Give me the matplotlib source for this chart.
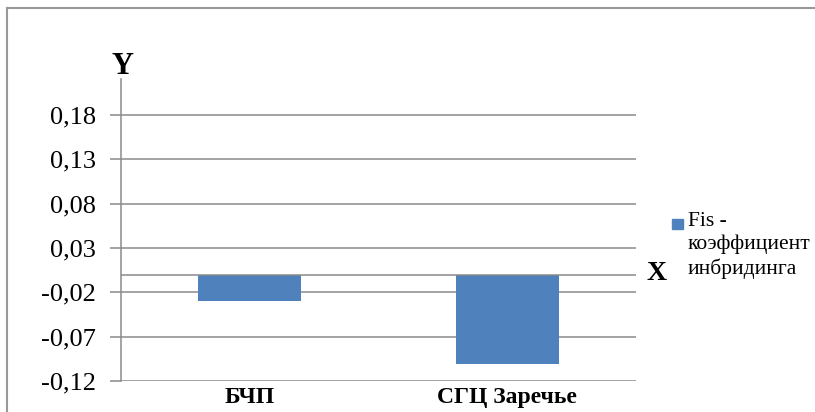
import matplotlib.pyplot as plt
from matplotlib.lines import Line2D
from matplotlib.patches import Rectangle

plt.rcParams['font.family'] = ['Liberation Serif', 'DejaVu Serif']

categories = ["БЧП", "СГЦ Заречье"]
fis_values = [-0.030, -0.101]
y_ticks = [-0.12, -0.07, -0.02, 0.03, 0.08, 0.13, 0.18]
y_labels = ["-0,12", "-0,07", "-0,02", "0,03", "0,08", "0,13", "0,18"]
legend_label = "Fis -\nкоэффициент\nинбридинга"

grey = '#8a8a8a'
bar_color = '#4f81bd'

fig = plt.figure(figsize=(8.15, 4.12), dpi=100)
W, H = 815, 412
ax = fig.add_axes([121 / W, 1 - 381 / H, (636 - 121) / W, (381 - 79) / H])

x = list(range(len(categories)))
ax.bar(x, fis_values, width=0.4, color=bar_color, zorder=3)

ax.set_xlim(-0.5, 1.5)
ax.set_ylim(-0.12, 0.2205)

# gridlines on each tick + the zero (category) axis
for t in y_ticks:
    ax.axhline(t, color=grey, lw=1.1, zorder=1)
ax.axhline(0, color=grey, lw=1.1, zorder=4)

ax.set_yticks(y_ticks)
ax.set_yticklabels(y_labels, fontsize=19)
ax.tick_params(axis='y', length=8, width=1.1, color=grey, pad=10)

ax.set_xticks(x)
ax.set_xticklabels(categories, fontsize=17, fontweight='bold')
ax.tick_params(axis='x', length=0, pad=4)

for side in ['top', 'right', 'bottom']:
    ax.spines[side].set_visible(False)
ax.spines['left'].set_color(grey)
ax.spines['left'].set_linewidth(1.1)

# axis letters
fig.text(123 / W, 1 - 66 / H, "Y", fontsize=22, fontweight='bold', ha='center', va='center')
fig.text(657 / W, 1 - 273 / H, "X", fontsize=20, fontweight='bold', ha='center', va='center')

# legend drawn by hand
fig.patches.append(Rectangle((672 / W, 1 - 229 / H), 11 / W, 10 / H,
                             transform=fig.transFigure, color=bar_color))
fig.text(688 / W, 1 - 212 / H, legend_label, fontsize=15.5, ha='left', va='top', linespacing=1.27)

# outer chart frame (top and left edges visible)
fig.add_artist(Line2D([7 / W, 1.0], [1 - 7.5 / H, 1 - 7.5 / H], color='#999999', lw=1.5,
                      transform=fig.transFigure))
fig.add_artist(Line2D([7 / W, 7 / W], [0, 1 - 7.5 / H], color='#999999', lw=1.5,
                      transform=fig.transFigure))

fig.savefig("out.png", dpi=100)
